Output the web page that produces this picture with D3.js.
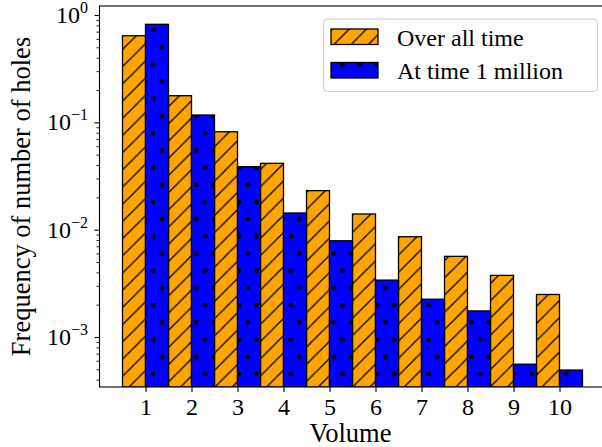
<!DOCTYPE html>
<html>
<head>
<meta charset="utf-8">
<script src="https://cdn.jsdelivr.net/npm/d3@7"></script>
<style>
  body { margin: 0; background: #fff; }
  svg { display: block; }
  text { font-family: "Liberation Serif", "Times New Roman", serif; fill: #000; }
  .axis path, .axis line { stroke: #000; }
</style>
</head>
<body>
<div id="chart"></div>
<script>
// data
var volumes = [1, 2, 3, 4, 5, 6, 7, 8, 9, 10];
var overAllTime = [0.641, 0.177, 0.0817, 0.0415, 0.0231, 0.0140, 0.00859, 0.00564, 0.00375, 0.00249];
var atMillion = [0.819, 0.117, 0.0386, 0.0143, 0.00788, 0.00339, 0.00225, 0.00175, 0.000558, 0.000492];
var seriesNames = ["Over all time", "At time 1 million"];
var majorTicks = [1e-3, 1e-2, 1e-1, 1];
var majorExp = ["\u22123", "\u22122", "\u22121", "0"];

var W = 602, H = 447;
// plot frame (window.top is read-only, so no plain "top")
var frameL = 99.5, frameR = 605.5, frameT = 6, frameB = 387;

var svg = d3.select("#chart").append("svg")
    .attr("width", W)
    .attr("height", H);

var defs = svg.append("defs");

// hatch '//' for the orange bars
var hatch = defs.append("pattern")
    .attr("id", "hatch")
    .attr("patternUnits", "userSpaceOnUse")
    .attr("width", 17.2)
    .attr("height", 17.2);
hatch.append("rect").attr("width", 17.2).attr("height", 17.2).attr("fill", "orange");
hatch.append("path")
    .attr("d", "M0,17.2L17.2,0M-4.3,4.3L4.3,-4.3M12.9,21.5L21.5,12.9")
    .attr("stroke", "#000")
    .attr("stroke-width", 1.3);

// dots '.' for the blue bars
var dots = defs.append("pattern")
    .attr("id", "dots")
    .attr("patternUnits", "userSpaceOnUse")
    .attr("x", 2.8)
    .attr("y", 4.2)
    .attr("width", 17.2)
    .attr("height", 34.4);
dots.append("rect").attr("width", 17.2).attr("height", 34.4).attr("fill", "#0000ff");
dots.append("circle").attr("cx", 4.3).attr("cy", 8.6).attr("r", 2.4).attr("fill", "#000");
dots.append("circle").attr("cx", 12.9).attr("cy", 25.8).attr("r", 2.4).attr("fill", "#000");

defs.append("clipPath").attr("id", "plotclip")
    .append("rect")
    .attr("x", frameL).attr("y", frameT)
    .attr("width", frameR - frameL).attr("height", frameB - frameT);

// scales
var x = d3.scaleLinear().domain([0, 11]).range([frameL, frameR]);
var y = d3.scaleLog().domain([1e-3, 1]).range([337, 15]);
y.domain([y.invert(frameB), y.invert(frameT)]).range([frameB, frameT]);

// bars
var plot = svg.append("g").attr("clip-path", "url(#plotclip)");

plot.selectAll("rect.over")
    .data(volumes)
    .enter()
    .append("rect")
    .attr("class", "over")
    .attr("x", function (d) { return x(d - 0.5); })
    .attr("width", function (d) { return x(d) - x(d - 0.5); })
    .attr("y", function (d, i) { return y(overAllTime[i]); })
    .attr("height", function (d, i) { return frameB - y(overAllTime[i]); })
    .attr("fill", "url(#hatch)")
    .attr("stroke", "#000")
    .attr("stroke-width", 1.3);

plot.selectAll("rect.million")
    .data(volumes)
    .enter()
    .append("rect")
    .attr("class", "million")
    .attr("x", function (d) { return x(d); })
    .attr("width", function (d) { return x(d + 0.5) - x(d); })
    .attr("y", function (d, i) { return y(atMillion[i]); })
    .attr("height", function (d, i) { return frameB - y(atMillion[i]); })
    .attr("fill", "url(#dots)")
    .attr("stroke", "#000")
    .attr("stroke-width", 1.3);

// frame
svg.append("rect")
    .attr("x", frameL).attr("y", frameT)
    .attr("width", frameR - frameL).attr("height", frameB - frameT)
    .attr("fill", "none")
    .attr("stroke", "#000")
    .attr("stroke-width", 1.1);

// x axis
var xAxis = svg.append("g")
    .attr("class", "axis")
    .attr("transform", "translate(0," + frameB + ")")
    .call(d3.axisBottom(x).tickValues(volumes).tickSize(5).tickPadding(5.5));
xAxis.select(".domain").remove();
xAxis.selectAll("line").attr("stroke-width", 1.1);
xAxis.selectAll("text").attr("font-size", 24);

// y axis, minor ticks first
var minor = [];
[-4, -3, -2, -1, 0].forEach(function (e) {
    for (var k = 2; k <= 9; k++) {
        var v = k * Math.pow(10, e);
        if (v >= y.domain()[0] && v <= y.domain()[1]) minor.push(v);
    }
});
var yMinor = svg.append("g")
    .attr("class", "axis")
    .attr("transform", "translate(" + frameL + ",0)")
    .call(d3.axisLeft(y).tickValues(minor).tickSize(3).tickFormat(""));
yMinor.select(".domain").remove();
yMinor.selectAll("line").attr("stroke-width", 0.9);

var yAxis = svg.append("g")
    .attr("class", "axis")
    .attr("transform", "translate(" + frameL + ",0)")
    .call(d3.axisLeft(y).tickValues(majorTicks).tickSize(5).tickFormat(""));
yAxis.select(".domain").remove();
yAxis.selectAll("line").attr("stroke-width", 1.1);

var yLab = svg.append("g").selectAll("text")
    .data(majorTicks)
    .enter()
    .append("text")
    .attr("x", 88)
    .attr("y", function (d) { return y(d) + 8; })
    .attr("text-anchor", "end")
    .attr("font-size", 24);
yLab.append("tspan").text("10");
yLab.append("tspan")
    .attr("font-size", 16)
    .attr("dy", -10)
    .text(function (d, i) { return majorExp[i]; });

// axis titles
svg.append("text")
    .attr("x", (frameL + frameR) / 2 - 2)
    .attr("y", 442)
    .attr("text-anchor", "middle")
    .attr("font-size", 26.5)
    .text("Volume");

svg.append("text")
    .attr("transform", "translate(30," + ((frameT + frameB) / 2) + ") rotate(-90)")
    .attr("text-anchor", "middle")
    .attr("font-size", 26.5)
    .text("Frequency of number of holes");

// legend
var legend = svg.append("g");
legend.append("rect")
    .attr("x", 323.5).attr("y", 19)
    .attr("width", 274).attr("height", 72.5)
    .attr("rx", 4)
    .attr("fill", "#fff")
    .attr("fill-opacity", 0.8)
    .attr("stroke", "#cccccc")
    .attr("stroke-width", 1);

var items = legend.selectAll("g.item")
    .data(seriesNames)
    .enter()
    .append("g")
    .attr("class", "item");

items.append("rect")
    .attr("x", 331)
    .attr("y", function (d, i) { return 29 + i * 33.5; })
    .attr("width", 47)
    .attr("height", 15.5)
    .attr("fill", function (d, i) { return i === 0 ? "url(#hatch)" : "url(#dots)"; })
    .attr("stroke", "#000")
    .attr("stroke-width", 1.3);

items.append("text")
    .attr("x", 397)
    .attr("y", function (d, i) { return 45.5 + i * 33.5; })
    .attr("font-size", 24)
    .text(function (d) { return d; });
</script>
</body>
</html>
